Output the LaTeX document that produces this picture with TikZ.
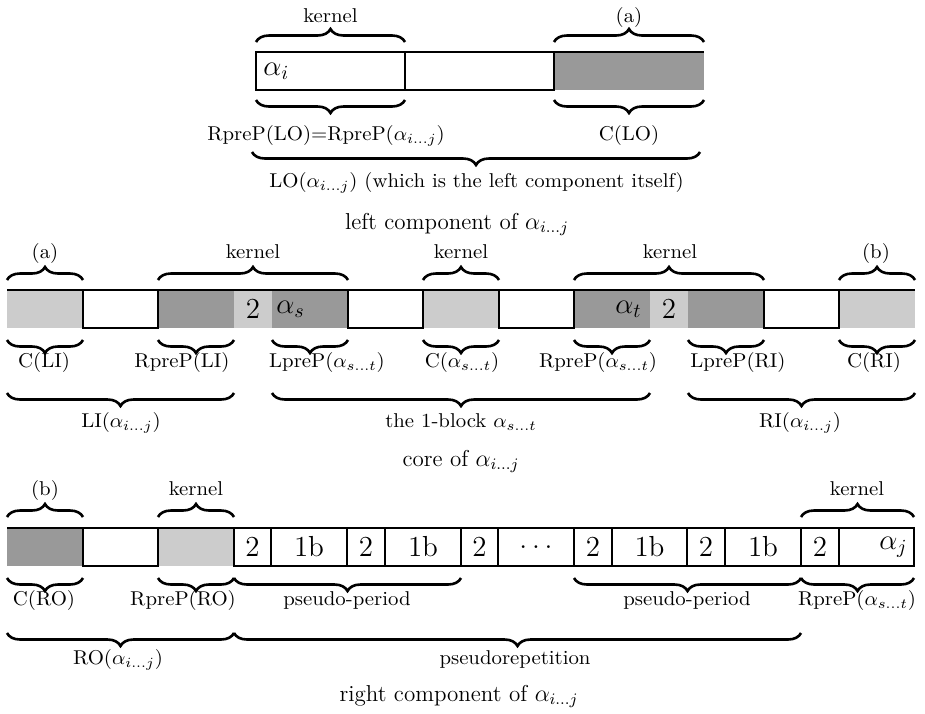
\documentclass[tikz,border=0pt]{standalone}
\usepackage{graphicx}
\usetikzlibrary{decorations.pathreplacing}
\definecolor{dgray}{gray}{0.6}
\definecolor{lgray}{gray}{0.8}
\newcommand\lab[1]{\scalebox{1.04}[1]{\fontsize{10}{12}\selectfont #1}}
\newcommand\celltxt[1]{{\fontsize{14.5}{17}\selectfont #1}}
\newcommand\capt[1]{{\fontsize{11.5}{13}\selectfont #1}}
\newcommand\mkcell[5]{\node[#2, minimum width={(#4-#3)*0.5pt}] (#1) at ({(#3+#4)/2},#5) {};}
\begin{document}
\begin{tikzpicture}[x=0.5pt,y=-0.5pt,
  cellbase/.style={rectangle, inner sep=0pt, outer sep=0pt, minimum height=19pt},
  wcell/.style={cellbase, draw=black, line width=0.6pt, fill=white},
  dcell/.style={cellbase, fill=dgray},
  lcell/.style={cellbase, fill=lgray},
  topline/.style={line width=0.6pt},
  brc/.style={decorate, decoration={brace, amplitude=6.5pt}, line width=1.3pt},
  lbl/.style={anchor=base, inner sep=0pt},
  ctxt/.style={inner sep=0pt}]
\useasboundingbox (0,0) rectangle (925,713);

% ---------------- top row: left component ----------------
\mkcell{t3}{dcell}{554}{704}{71}
\mkcell{t1}{wcell}{256}{405}{71}
\mkcell{t2}{wcell}{405}{554}{71}
\draw[topline] (t1.north west) -- (t3.north east);
\node[ctxt, anchor=west] (ai) at ([xshift=3.5pt]t1.west) {\celltxt{$\alpha_i$}};

\draw[brc] ([yshift=5pt]t1.north west) -- ([yshift=5pt]t1.north east);
\draw[brc] ([yshift=5pt]t3.north west) -- ([yshift=5pt]t3.north east);
\draw[brc] ([yshift=-5pt]t1.south east) -- ([yshift=-5pt]t1.south west);
\draw[brc] ([yshift=-5pt]t3.south east) -- ([yshift=-5pt]t3.south west);
\draw[brc] ([xshift=-2pt,yshift=-31pt]t3.south east) -- ([xshift=-2pt,yshift=-31pt]t1.south west);

\node[lbl] (lk1) at (330.5,22) {\lab{kernel}};
\node[lbl] (la1) at (629,22) {\lab{(a)}};
\node[lbl] (lr1) at (326,140) {\lab{RpreP(LO)=RpreP($\alpha_{i\ldots j}$)}};
\node[lbl] (lc1) at (629,140) {\lab{C(LO)}};
\node[lbl] (llo) at (476.5,187) {\lab{LO($\alpha_{i\ldots j}$) (which is the left component itself)}};
\node[lbl] (cap1) at (457,229) {\capt{left component of $\alpha_{i\ldots j}$}};

% ---------------- middle row: core ----------------
\mkcell{c1}{lcell}{7}{83}{309}
\mkcell{c3}{dcell}{158}{234}{309}
\mkcell{c4}{lcell}{234}{272}{309}
\mkcell{c5}{dcell}{272}{348}{309}
\mkcell{c7}{lcell}{423}{499}{309}
\mkcell{c9}{dcell}{574}{650}{309}
\mkcell{c10}{lcell}{650}{688}{309}
\mkcell{c11}{dcell}{688}{764}{309}
\mkcell{c13}{lcell}{839}{915}{309}
\mkcell{c2}{wcell}{83}{158}{309}
\mkcell{c6}{wcell}{348}{423}{309}
\mkcell{c8}{wcell}{499}{574}{309}
\mkcell{c12}{wcell}{764}{839}{309}
\draw[topline] (c1.north west) -- (c13.north east);
\node[ctxt] (c4t) at (c4) {\celltxt{2}};
\node[ctxt, anchor=west] (c5t) at ([xshift=2pt]c5.west) {\celltxt{$\alpha_s$}};
\node[ctxt, anchor=east] (c9t) at ([xshift=-4pt]c9.east) {\celltxt{$\alpha_t$}};
\node[ctxt] (c10t) at (c10) {\celltxt{2}};

\draw[brc] ([yshift=5pt]c1.north west) -- ([yshift=5pt]c1.north east);
\draw[brc] ([yshift=5pt]c3.north west) -- ([yshift=5pt]c5.north east);
\draw[brc] ([yshift=5pt]c7.north west) -- ([yshift=5pt]c7.north east);
\draw[brc] ([yshift=5pt]c9.north west) -- ([yshift=5pt]c11.north east);
\draw[brc] ([yshift=5pt]c13.north west) -- ([yshift=5pt]c13.north east);
\foreach \c in {c1,c3,c5,c7,c9,c11,c13}
  \draw[brc] ([yshift=-6pt]\c.south east) -- ([yshift=-6pt]\c.south west);
\draw[brc] ([yshift=-32.5pt]c3.south east) -- ([yshift=-32.5pt]c1.south west);
\draw[brc] ([yshift=-32.5pt]c9.south east) -- ([yshift=-32.5pt]c5.south west);
\draw[brc] ([yshift=-32.5pt]c13.south east) -- ([yshift=-32.5pt]c11.south west);

\node[lbl] (ma) at (45,258) {\lab{(a)}};
\node[lbl] (mk1) at (253,258) {\lab{kernel}};
\node[lbl] (mk2) at (461,258) {\lab{kernel}};
\node[lbl] (mk3) at (670,258) {\lab{kernel}};
\node[lbl] (mb) at (876,258) {\lab{(b)}};
\node[lbl] (mcli) at (44,367) {\lab{C(LI)}};
\node[lbl] (mrli) at (182,367) {\lab{RpreP(LI)}};
\node[lbl] (mlst) at (327,367) {\lab{LpreP($\alpha_{s\ldots t}$)}};
\node[lbl] (mcst) at (462,367) {\lab{C($\alpha_{s\ldots t}$)}};
\node[lbl] (mrst) at (598,367) {\lab{RpreP($\alpha_{s\ldots t}$)}};
\node[lbl] (mlri) at (738,367) {\lab{LpreP(RI)}};
\node[lbl] (mcri) at (874,367) {\lab{C(RI)}};
\node[lbl] (mli) at (121,427) {\lab{LI($\alpha_{i\ldots j}$)}};
\node[lbl] (mob) at (461,427) {\lab{the 1-block $\alpha_{s\ldots t}$}};
\node[lbl] (mri) at (800,427) {\lab{RI($\alpha_{i\ldots j}$)}};
\node[lbl] (cap2) at (461,466) {\capt{core of $\alpha_{i\ldots j}$}};

% ---------------- bottom row: right component ----------------
\mkcell{d1}{dcell}{7}{83}{547}
\mkcell{d3}{lcell}{158}{234}{547}
\mkcell{d2}{wcell}{83}{158}{547}
\mkcell{d4}{wcell}{234}{271}{547}
\mkcell{d5}{wcell}{271}{347}{547}
\mkcell{d6}{wcell}{347}{385}{547}
\mkcell{d7}{wcell}{385}{461}{547}
\mkcell{d8}{wcell}{461}{498}{547}
\mkcell{d9}{wcell}{498}{574}{547}
\mkcell{d10}{wcell}{574}{612}{547}
\mkcell{d11}{wcell}{612}{687}{547}
\mkcell{d12}{wcell}{687}{725}{547}
\mkcell{d13}{wcell}{725}{801}{547}
\mkcell{d14}{wcell}{801}{839}{547}
\mkcell{d15}{wcell}{839}{914}{547}
\draw[topline] (d1.north west) -- (d15.north east);
\foreach \c/\t in {d4/2,d5/1b,d6/2,d7/1b,d8/2,d10/2,d11/1b,d12/2,d13/1b,d14/2}
  \node[ctxt] (\c t) at (\c) {\celltxt{\t}};
\node[ctxt] (d9t) at (d9) {\celltxt{$\ldots$}};
\node[ctxt, anchor=east] (d15t) at ([xshift=-3pt]d15.east) {\celltxt{$\alpha_j$}};

\draw[brc] ([yshift=5.5pt]d1.north west) -- ([yshift=5.5pt]d1.north east);
\draw[brc] ([yshift=5.5pt]d3.north west) -- ([yshift=5.5pt]d3.north east);
\draw[brc] ([yshift=5.5pt]d14.north west) -- ([yshift=5.5pt]d15.north east);
\draw[brc] ([yshift=-6pt]d1.south east) -- ([yshift=-6pt]d1.south west);
\draw[brc] ([yshift=-6pt]d3.south east) -- ([yshift=-6pt]d3.south west);
\draw[brc] ([yshift=-6pt]d7.south east) -- ([yshift=-6pt]d4.south west);
\draw[brc] ([yshift=-6pt]d13.south east) -- ([yshift=-6pt]d10.south west);
\draw[brc] ([yshift=-6pt]d15.south east) -- ([yshift=-6pt]d14.south west);
\draw[brc] ([yshift=-33.5pt]d3.south east) -- ([yshift=-33.5pt]d1.south west);
\draw[brc] ([yshift=-33.5pt]d13.south east) -- ([yshift=-33.5pt]d4.south west);

\node[lbl] (bb) at (45,495) {\lab{(b)}};
\node[lbl] (bk1) at (196,495) {\lab{kernel}};
\node[lbl] (bk2) at (857,495) {\lab{kernel}};
\node[lbl] (bcro) at (44,605) {\lab{C(RO)}};
\node[lbl] (brro) at (183,605) {\lab{RpreP(RO)}};
\node[lbl] (bpp1) at (347,605) {\lab{pseudo-period}};
\node[lbl] (bpp2) at (687,605) {\lab{pseudo-period}};
\node[lbl] (brst) at (857,605) {\lab{RpreP($\alpha_{s\ldots t}$)}};
\node[lbl] (bro) at (118,664) {\lab{RO($\alpha_{i\ldots j}$)}};
\node[lbl] (bpr) at (515,664) {\lab{pseudorepetition}};
\node[lbl] (cap3) at (459,701) {\capt{right component of $\alpha_{i\ldots j}$}};
\end{tikzpicture}
\end{document}
